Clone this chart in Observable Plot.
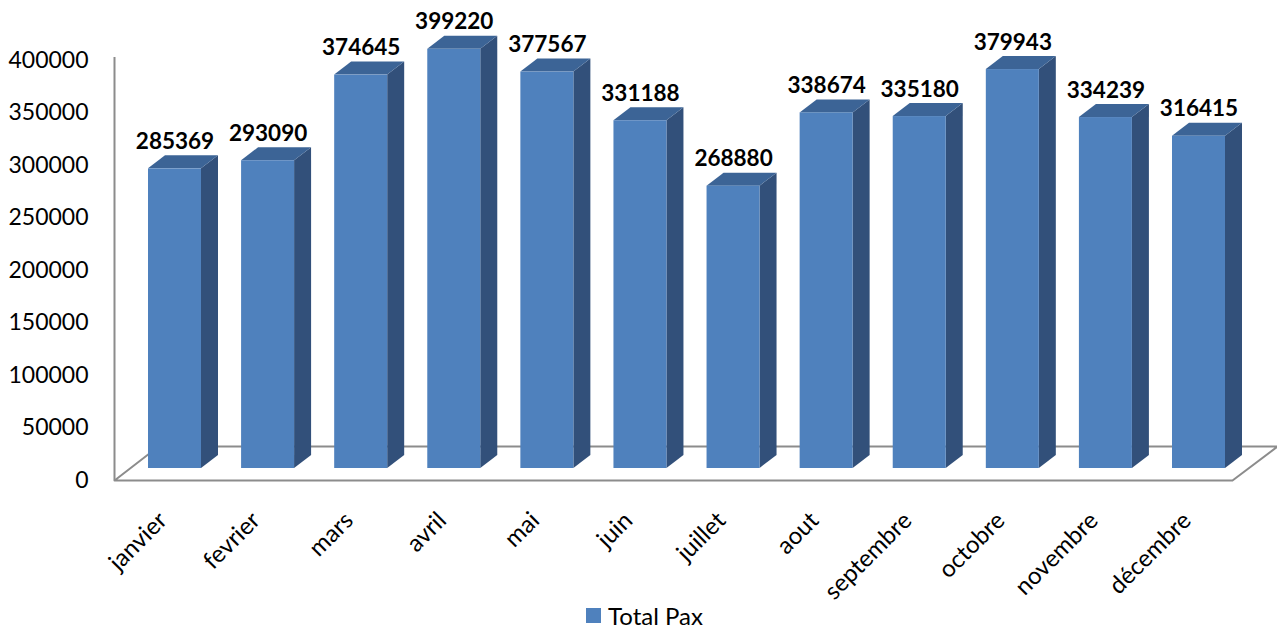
<!DOCTYPE html>
<html>
<head>
<meta charset="utf-8">
<script src="https://cdn.jsdelivr.net/npm/d3@7"></script>
<script src="https://cdn.jsdelivr.net/npm/@observablehq/plot@0.6"></script>
<style>
  body { margin: 0; background: #fff; font-family: Lato, "Open Sans", sans-serif; }
  #wrap { position: relative; width: 1277px; height: 629px; }
  #legend { position: absolute; left: 586px; top: 601px; display: flex; align-items: center; font-size: 24px; color: #000; }
  #legend .sw { width: 15px; height: 15px; background: #4F81BD; margin-right: 7px; }
</style>
</head>
<body>
<div id="wrap"><div id="chart"></div><div id="legend"><span class="sw"></span><span>Total Pax</span></div></div>
<script>
// ---- data ----
const months = ["janvier", "fevrier", "mars", "avril", "mai", "juin", "juillet", "aout", "septembre", "octobre", "novembre", "décembre"];
const totalPax = [285369, 293090, 374645, 399220, 377567, 331188, 268880, 338674, 335180, 379943, 334239, 316415];
const yTicks = [0, 50000, 100000, 150000, 200000, 250000, 300000, 350000, 400000];

// ---- layout (pixels) ----
const W = 1277, H = 629;
const xR = [174.5, 1198.5];       // pixel centers of first / last bar
const yR = [480, 60];             // pixel of 0 / 400000
const pxX = (xR[1] - xR[0]) / (months.length - 1);
const pxY = (yR[0] - yR[1]) / 400000;
const ux = p => p / pxX;          // pixels -> x units
const uy = p => p / pxY;          // pixels -> y units
const invX = p => (p - xR[0]) / pxX;
const invY = p => (yR[0] - p) / pxY;

const half = ux(26.5), ddx = ux(17), ddy = uy(13), lift = uy(12);

const data = months.map((m, i) => ({m, i, v: totalPax[i]}));
const sideFace = data.flatMap(d => [
  {m: d.m, x: d.i + half, y1: lift, y2: d.v + lift},
  {m: d.m, x: d.i + half + ddx, y1: lift + ddy, y2: d.v + lift + ddy}
]);
const topFace = data.flatMap(d => {
  const b = d.v + lift;
  return [
    {m: d.m, x: d.i - half, y1: b, y2: b},
    {m: d.m, x: d.i - half + ddx, y1: b, y2: b + ddy},
    {m: d.m, x: d.i + half, y1: b, y2: b + ddy},
    {m: d.m, x: d.i + half + ddx, y1: b + ddy, y2: b + ddy}
  ];
});
const floorPts = [
  {x: invX(114), y: 0}, {x: invX(1232), y: 0},
  {x: invX(1277), y: uy(34)}, {x: invX(158), y: uy(34)}, {x: invX(114), y: 0}
];
const font = "Lato, 'Open Sans', sans-serif";

const chart = Plot.plot({
  width: W, height: H,
  marginLeft: 114, marginRight: 0, marginTop: 57, marginBottom: 150,
  style: {fontFamily: font, background: "#fff"},
  x: {type: "linear", domain: [0, months.length - 1], range: xR, axis: null},
  y: {type: "linear", domain: [0, 400000], range: yR, axis: null},
  marks: [
    Plot.line(floorPts, {x: "x", y: "y", stroke: "#8c8c8c", strokeWidth: 2}),
    Plot.ruleX([invX(114)], {y1: 0, y2: invY(57), stroke: "#8c8c8c", strokeWidth: 2}),
    Plot.axisY(yTicks, {tickSize: 0, tickPadding: 26, fontSize: 23, tickFormat: d3.format("d"), fill: "#000", fontFamily: font}),
    Plot.areaY(sideFace, {x: "x", y1: "y1", y2: "y2", z: "m", fill: "#32507A"}),
    Plot.areaY(topFace, {x: "x", y1: "y1", y2: "y2", z: "m", fill: "#3C6496"}),
    Plot.rect(data, {x1: d => d.i - half, x2: d => d.i + half, y1: lift, y2: d => d.v + lift, fill: "#4F81BD"}),
    Plot.text(data, {x: "i", y: d => d.v + lift, text: d => String(d.v), dy: -20, lineAnchor: "bottom", fontSize: 22.5, fontWeight: "bold", fill: "#000", fontFamily: font}),
    Plot.text(data, {x: "i", y: 0, text: "m", rotate: -45, textAnchor: "end", dx: -12, dy: 36, fontSize: 24, fill: "#000", fontFamily: font})
  ]
});
document.getElementById("chart").appendChild(chart);
</script>
</body>
</html>
